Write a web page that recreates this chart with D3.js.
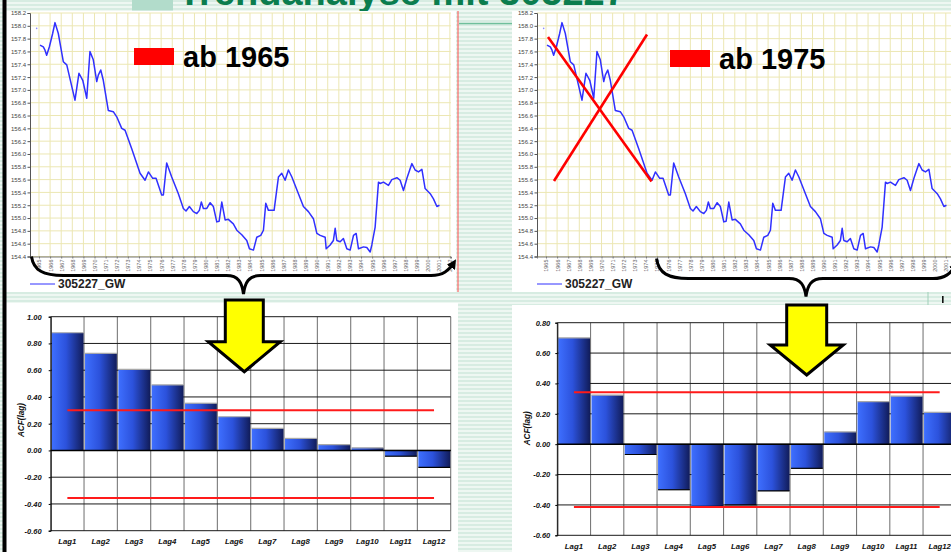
<!DOCTYPE html>
<html>
<head>
<meta charset="utf-8">
<script src="https://cdn.jsdelivr.net/npm/d3@7"></script>
<style>
  html, body { margin: 0; padding: 0; background: #fff; overflow: hidden; }
  svg { display: block; }
</style>
</head>
<body>
<svg id="slide" width="951" height="552"></svg>
<script>
// ---- groundwater level, station 305227 (year, m a.s.l.) ----
const gwYears = [
  1965.09, 1965.39, 1965.54, 1965.69, 1965.93, 1966.23, 1966.44, 1966.74, 1967.19, 1967.50,
  1968.24, 1968.60, 1968.94, 1969.30, 1969.59, 1969.89, 1970.20, 1970.34, 1970.56, 1970.79,
  1971.24, 1971.69, 1972.00, 1972.45, 1972.75, 1973.35, 1974.10, 1974.55, 1974.85, 1975.24,
  1975.54, 1976.05, 1976.20, 1976.50, 1976.95, 1977.55, 1978.00, 1978.24, 1978.54, 1978.90,
  1979.21, 1979.44, 1979.62, 1979.80, 1980.11, 1980.41, 1980.70, 1981.01, 1981.22, 1981.46,
  1981.76, 1982.05, 1982.50, 1982.81, 1983.26, 1983.71, 1983.95, 1984.31, 1984.61, 1984.97,
  1985.21, 1985.42, 1985.66, 1985.96, 1986.17, 1986.56, 1986.86, 1987.16, 1987.46, 1987.77,
  1988.36, 1988.81, 1989.26, 1989.71, 1990.02, 1990.32, 1990.77, 1990.86, 1991.22, 1991.51,
  1991.67, 1991.82, 1992.12, 1992.41, 1992.72, 1993.02, 1993.32, 1993.56, 1993.77, 1994.22,
  1994.52, 1994.82, 1994.97, 1995.27, 1995.57, 1995.72, 1996.02, 1996.47, 1996.77, 1997.23,
  1997.52, 1997.82, 1998.13, 1998.58, 1998.87, 1999.17, 1999.48, 1999.77, 2000.23, 2000.52,
  2000.83, 2001.06
];
const gwLevels = [
  157.70, 157.67, 157.62, 157.54, 157.67, 157.88, 158.05, 157.88, 157.44, 157.39,
  156.84, 157.26, 157.15, 156.87, 157.60, 157.47, 157.13, 157.23, 157.31, 157.15,
  156.68, 156.66, 156.58, 156.40, 156.37, 156.08, 155.70, 155.59, 155.72, 155.62,
  155.62, 155.36, 155.36, 155.86, 155.64, 155.38, 155.15, 155.11, 155.18, 155.10,
  155.07, 155.12, 155.25, 155.15, 155.15, 155.24, 155.18, 154.94, 154.95, 155.25,
  154.97, 154.98, 154.91, 154.81, 154.74, 154.65, 154.52, 154.50, 154.70, 154.73,
  154.81, 155.23, 155.12, 155.12, 155.12, 155.64, 155.70, 155.59, 155.75, 155.64,
  155.38, 155.18, 155.10, 154.99, 154.76, 154.73, 154.70, 154.52, 154.58, 154.65,
  154.84, 154.65, 154.63, 154.68, 154.52, 154.50, 154.73, 154.76, 154.52, 154.55,
  154.54, 154.47, 154.58, 154.86, 155.56, 155.54, 155.56, 155.51, 155.60, 155.63,
  155.59, 155.43, 155.62, 155.85, 155.75, 155.72, 155.76, 155.46, 155.38, 155.30,
  155.18, 155.20
];
// single early reading, plotted on its own
const gwDotYears = [1964.79];
const gwDotLevels = [157.96];

const gwTicks = [154.4, 154.6, 154.8, 155.0, 155.2, 155.4, 155.6, 155.8, 156.0, 156.2,
                 156.4, 156.6, 156.8, 157.0, 157.2, 157.4, 157.6, 157.8, 158.0, 158.2];
const yearLabels = [1965, 1966, 1967, 1968, 1969, 1970, 1971, 1972, 1973, 1974, 1975, 1976, 1977,
                    1978, 1979, 1980, 1981, 1982, 1983, 1984, 1985, 1986, 1987, 1988, 1989, 1990,
                    1991, 1992, 1993, 1994, 1995, 1996, 1997, 1998, 1999, 2000, 2001, 2002];
const seriesName = "305227_GW";

// ---- autocorrelation by lag ----
const lagLabels = ["Lag1", "Lag2", "Lag3", "Lag4", "Lag5", "Lag6", "Lag7", "Lag8", "Lag9", "Lag10", "Lag11", "Lag12"];
const acf1965 = [0.88, 0.726, 0.606, 0.49, 0.353, 0.252, 0.165, 0.09, 0.043, 0.02, -0.043, -0.127];
const acf1975 = [0.70, 0.323, -0.068, -0.30, -0.41, -0.40, -0.308, -0.159, 0.081, 0.28, 0.316, 0.21];
const conf1965 = [0.30, -0.355];
const conf1975 = [0.342, -0.413];
const acfTicks1965 = [1.0, 0.8, 0.6, 0.4, 0.2, 0.0, -0.2, -0.4, -0.6];
const acfTicks1975 = [0.8, 0.6, 0.4, 0.2, 0.0, -0.2, -0.4, -0.6];

const titleText = "Trendanalyse mit 305227";
const periodLabels = ["ab 1965", "ab 1975"];
const acfTitle = "ACF(lag)";

const FONT = "'Liberation Sans', Arial, Helvetica, sans-serif";
const svg = d3.select("#slide");
const defs = svg.append("defs");

// striped slide background
const pat = defs.append("pattern").attr("id", "stripes")
  .attr("width", 8).attr("height", 4).attr("patternUnits", "userSpaceOnUse");
pat.append("rect").attr("width", 8).attr("height", 4).attr("fill", "#eef7f2");
pat.append("rect").attr("width", 8).attr("height", 2).attr("fill", "#d7ece2");

const grad = defs.append("linearGradient").attr("id", "barGrad")
  .attr("x1", 0).attr("x2", 1).attr("y1", 0).attr("y2", 0);
grad.append("stop").attr("offset", "0%").attr("stop-color", "#3e6fff");
grad.append("stop").attr("offset", "45%").attr("stop-color", "#2c52dc");
grad.append("stop").attr("offset", "100%").attr("stop-color", "#111c5a");

defs.append("marker").attr("id", "braceHead")
  .attr("viewBox", "0 0 10 10").attr("refX", 6).attr("refY", 5)
  .attr("markerWidth", 3.2).attr("markerHeight", 3.2).attr("orient", "auto")
  .append("path").attr("d", "M0,0 L10,5 L0,10 z").attr("fill", "#000");

svg.append("rect").attr("width", 951).attr("height", 552).attr("fill", "url(#stripes)");

// title (runs off the top of the slide)
svg.append("rect").attr("x", 132).attr("y", 0).attr("width", 41).attr("height", 10.5).attr("fill", "#b2dccb");
svg.append("text").attr("x", 178).attr("y", 5)
  .attr("font-family", FONT).attr("font-weight", "bold").attr("font-size", 38)
  .attr("fill", "#0b7d4e").text(titleText);

// white chart panels
const panels = [[6, 11, 450, 281], [512, 11, 439, 281], [6, 303, 452, 249], [512, 305, 439, 247]];
svg.selectAll("rect.panel").data(panels).join("rect").attr("class", "panel")
  .attr("x", d => d[0]).attr("y", d => d[1]).attr("width", d => d[2]).attr("height", d => d[3])
  .attr("fill", "#fff");

// slide decorations
svg.append("rect").attr("x", 2.5).attr("y", 0).attr("width", 4).attr("height", 552).attr("fill", "#000");
svg.append("line").attr("x1", 458).attr("x2", 458).attr("y1", 11).attr("y2", 292)
  .attr("stroke", "#ff4d4d").attr("stroke-width", 1);
svg.append("line").attr("x1", 459).attr("x2", 512).attr("y1", 23.5).attr("y2", 23.5)
  .attr("stroke", "#6fbf9b").attr("stroke-width", 1.5);
svg.append("line").attr("x1", 928).attr("x2", 928).attr("y1", 292).attr("y2", 305)
  .attr("stroke", "#9fcfb8").attr("stroke-width", 1);
svg.append("rect").attr("x", 942).attr("y", 296).attr("width", 1.6).attr("height", 7).attr("fill", "#111");

// ---------- hydrograph ----------
function drawHydrograph(dx, periodLabel, labelPos) {
  const g = svg.append("g").attr("transform", `translate(${dx},0)`);
  const x = d3.scaleLinear().domain([1964.19, 2002.1]).range([30, 451]);
  const y = d3.scaleLinear().domain([154.4, 158.2]).range([256.5, 13]);

  g.selectAll("line.hg").data(gwTicks).join("line").attr("class", "hg")
    .attr("x1", 30).attr("x2", 451).attr("y1", d => y(d)).attr("y2", d => y(d))
    .attr("stroke", "#ece7b3").attr("stroke-width", 1);
  g.selectAll("line.vg").data(yearLabels).join("line").attr("class", "vg")
    .attr("x1", d => x(d)).attr("x2", d => x(d)).attr("y1", 13).attr("y2", 256.5)
    .attr("stroke", "#ece7b3").attr("stroke-width", 1);

  const ay = g.append("g").attr("transform", "translate(30,0)")
    .call(d3.axisLeft(y).tickValues(gwTicks).tickFormat(d3.format(".1f")).tickSize(2.5).tickPadding(1.5));
  ay.select(".domain").attr("stroke", "#555");
  ay.selectAll(".tick line").attr("stroke", "#555");
  ay.selectAll("text").attr("font-family", FONT).attr("font-size", 6).attr("fill", "#444");

  const ax = g.append("g").attr("transform", "translate(0,256.5)")
    .call(d3.axisBottom(x).tickValues(yearLabels).tickFormat(d3.format("d")).tickSize(2));
  ax.select(".domain").attr("stroke", "#777");
  ax.selectAll(".tick line").attr("stroke", "#777");
  ax.selectAll("text").attr("font-family", FONT).attr("font-size", 5.5).attr("fill", "#666")
    .attr("transform", "rotate(-90)").attr("text-anchor", "end")
    .attr("x", -3).attr("y", 0).attr("dy", "0.35em");

  const pts = gwYears.map((yr, i) => [yr, gwLevels[i]]);
  g.append("path").datum(pts)
    .attr("d", d3.line().x(d => x(d[0])).y(d => y(d[1])))
    .attr("fill", "none").attr("stroke", "#3030ff").attr("stroke-width", 1.5)
    .attr("stroke-linejoin", "round");
  g.selectAll("circle.dot").data(gwDotYears).join("circle").attr("class", "dot")
    .attr("cx", d => x(d)).attr("cy", (d, i) => y(gwDotLevels[i])).attr("r", 0.8)
    .attr("fill", "#8c8cff");

  // legend
  g.append("line").attr("x1", 30).attr("x2", 55).attr("y1", 284).attr("y2", 284)
    .attr("stroke", "#3030ff").attr("stroke-width", 1);
  g.append("text").attr("x", 58).attr("y", 288.3).attr("font-family", FONT)
    .attr("font-weight", "bold").attr("font-size", 12).attr("fill", "#222").text(seriesName);

  // period label with red key
  g.append("rect").attr("x", labelPos[0]).attr("y", labelPos[1]).attr("width", 40).attr("height", 17)
    .attr("fill", "#ff0000");
  g.append("text").attr("x", labelPos[0] + 49).attr("y", labelPos[1] + 18.5).attr("font-family", FONT)
    .attr("font-weight", "bold").attr("font-size", 29).attr("fill", "#000").text(periodLabel);
  return { g, x, y };
}

const left = drawHydrograph(0, periodLabels[0], [134, 48]);
const right = drawHydrograph(507, periodLabels[1], [163, 50]);

// crossed-out early period on the 1975 chart
right.g.append("line").attr("x1", 41).attr("y1", 37).attr("x2", 144.5).attr("y2", 181.5)
  .attr("stroke", "#ff0000").attr("stroke-width", 2.6);
right.g.append("line").attr("x1", 140).attr("y1", 34.5).attr("x2", 47).attr("y2", 181)
  .attr("stroke", "#ff0000").attr("stroke-width", 2.6);

// braces marking the analysed period
function brace(g, xa, xb, xm, yTop, yFlat, yTip) {
  const p = d3.path();
  p.moveTo(xa, yTop);
  p.bezierCurveTo(xa + 2, yFlat - 5, xa + 12, yFlat, xa + 32, yFlat);
  p.lineTo(xm - 17, yFlat);
  p.bezierCurveTo(xm - 5, yFlat, xm - 1.5, yFlat + 7, xm, yTip);
  p.bezierCurveTo(xm + 1.5, yFlat + 7, xm + 5, yFlat, xm + 17, yFlat);
  p.lineTo(xb - 24, yFlat);
  p.bezierCurveTo(xb - 12, yFlat, xb - 6, yFlat - 5, xb - 1, yTop + 6);
  g.append("path").attr("d", p.toString()).attr("fill", "none")
    .attr("stroke", "#000").attr("stroke-width", 3).attr("marker-end", "url(#braceHead)");
}
brace(left.g, left.x(1964.19) + 1.5, left.x(2002.1) + 4, 243.5, 256.5, 275.5, 294);
brace(right.g, right.x(1975) - 0.5, 450, 299, 258.5, 278.5, 296.5);

// ---------- autocorrelation bars ----------
function drawAcf(o) {
  const g = svg.append("g");
  const x = d3.scaleBand().domain(lagLabels).range([o.x0, o.x1]).padding(0);
  const y = d3.scaleLinear().domain(o.domain).range([o.yBot, o.yTop]);
  const bw = x.bandwidth();

  g.selectAll("line.vg").data(lagLabels.map(d => x(d)).concat([o.x1])).join("line").attr("class", "vg")
    .attr("x1", d => d).attr("x2", d => d).attr("y1", o.yTop).attr("y2", o.yBot)
    .attr("stroke", "#7a7a7a").attr("stroke-width", 1.1);
  g.selectAll("line.hg").data(o.ticks).join("line").attr("class", "hg")
    .attr("x1", o.x0).attr("x2", o.x1).attr("y1", d => y(d)).attr("y2", d => y(d))
    .attr("stroke", "#1a1a1a").attr("stroke-width", 1);

  const rows = lagLabels.map((l, i) => ({ lag: l, v: o.values[i] }));
  g.selectAll("rect.bar").data(rows).join("rect").attr("class", "bar")
    .attr("x", d => x(d.lag) + 1).attr("width", bw - 1.5)
    .attr("y", d => Math.min(y(d.v), y(0))).attr("height", d => Math.abs(y(d.v) - y(0)))
    .attr("fill", "url(#barGrad)");
  g.selectAll("line.edge").data(rows).join("line").attr("class", "edge")
    .attr("x1", d => x(d.lag) + 1).attr("x2", d => x(d.lag) + bw - 0.5)
    .attr("y1", d => y(d.v)).attr("y2", d => y(d.v))
    .attr("stroke", d => d.v >= 0 ? "#a8a8a8" : "#000").attr("stroke-width", 1.2);

  g.append("line").attr("x1", o.x0).attr("x2", o.x1).attr("y1", y(0)).attr("y2", y(0))
    .attr("stroke", "#000").attr("stroke-width", 1.4);

  const ay = g.append("g").attr("transform", `translate(${o.x0},0)`)
    .call(d3.axisLeft(y).tickValues(o.ticks).tickFormat(d => d.toFixed(2)).tickSize(2).tickPadding(o.pad));
  ay.select(".domain").attr("stroke", "#000");
  ay.selectAll("text").attr("font-family", FONT).attr("font-weight", "bold").attr("font-style", "italic")
    .attr("font-size", 7.5).attr("fill", "#111");

  g.selectAll("text.lag").data(lagLabels).join("text").attr("class", "lag")
    .attr("x", d => x(d) + bw / 2).attr("y", o.lagY).attr("dy", "0.35em").attr("text-anchor", "middle")
    .attr("font-family", FONT).attr("font-weight", "bold").attr("font-style", "italic")
    .attr("font-size", 7.8).attr("fill", "#111").text(d => d);

  g.append("text").attr("transform", `translate(${o.titleX},${o.titleY}) rotate(-90)`)
    .attr("text-anchor", "middle").attr("dy", "0.35em")
    .attr("font-family", FONT).attr("font-weight", "bold").attr("font-style", "italic")
    .attr("font-size", 8.2).attr("fill", "#111").text(acfTitle);

  const xa = x(lagLabels[0]) + bw / 2, xb = x(lagLabels[lagLabels.length - 1]) + bw / 2;
  g.selectAll("line.conf").data(o.conf).join("line").attr("class", "conf")
    .attr("x1", xa).attr("x2", xb).attr("y1", d => y(d)).attr("y2", d => y(d))
    .attr("stroke", "#ff1a1a").attr("stroke-width", 2);
  return g;
}

drawAcf({ x0: 50.7, x1: 450.7, yTop: 316.7, yBot: 530.7, domain: [-0.6, 1.0], ticks: acfTicks1965,
          values: acf1965, conf: conf1965, pad: 7, lagY: 541.7, titleX: 20.7, titleY: 420 });
drawAcf({ x0: 557.3, x1: 956.3, yTop: 322.7, yBot: 535.3, domain: [-0.6, 0.8], ticks: acfTicks1975,
          values: acf1975, conf: conf1975, pad: 5, lagY: 546.7, titleX: 526.7, titleY: 428.3 });

// yellow block arrows
function blockArrow(cx, top, shaftHalf, headHalf, shaftBottom, tip) {
  const pts = [[cx - shaftHalf, top], [cx + shaftHalf, top], [cx + shaftHalf, shaftBottom],
               [cx + headHalf, shaftBottom], [cx, tip], [cx - headHalf, shaftBottom], [cx - shaftHalf, shaftBottom]];
  svg.append("polygon").attr("points", pts.map(p => p.join(",")).join(" "))
    .attr("fill", "#ffff00").attr("stroke", "#000").attr("stroke-width", 3).attr("stroke-linejoin", "miter");
}
blockArrow(244.3, 300, 19, 36, 341.7, 371.7);
blockArrow(806.7, 305, 20, 36.5, 345, 375);
</script>
</body>
</html>
